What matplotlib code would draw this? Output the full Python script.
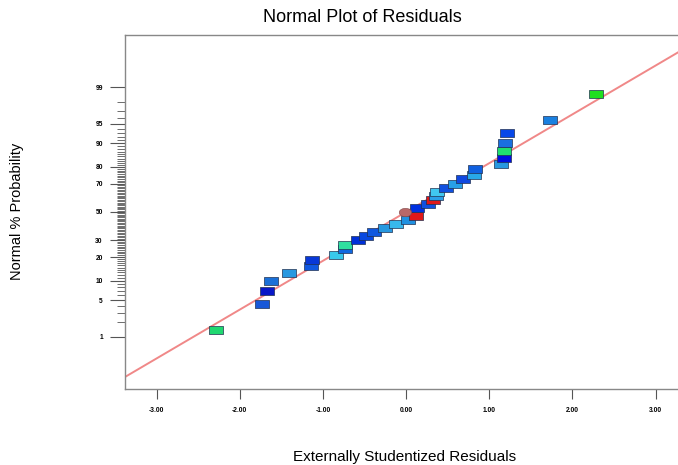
import numpy as np
import matplotlib
matplotlib.use("Agg")
import matplotlib.pyplot as plt
from statistics import NormalDist

# ---- data ----
residuals = [-2.28, -1.73, -1.67, -1.62, -1.41, -1.14, -1.13, -0.84, -0.73, -0.73,
             -0.58, -0.48, -0.38, -0.25, -0.12, 0.02, 0.12, -0.01, 0.13, 0.26,
             0.32, 0.36, 0.37, 0.48, 0.59, 0.69, 0.82, 0.83, 1.14, 1.18,
             1.18, 1.19, 1.21, 1.73, 2.28]
prob_pct = [1.4, 4.3, 7.1, 10.0, 12.9, 15.7, 18.6, 21.4, 24.3, 27.1,
            30.0, 32.9, 35.7, 38.6, 41.4, 44.3, 47.1, 50.0, 52.9, 55.7,
            58.6, 61.4, 64.3, 67.1, 70.0, 72.9, 75.7, 78.6, 81.4, 84.3,
            87.1, 90.0, 92.9, 95.7, 98.6]
point_colors = ['#20d870', '#1858d8', '#0818c8', '#1a70d8', '#2898e0', '#1058e0', '#0838d8',
                '#38c8ec', '#1068e0', '#30e0a0', '#0030d8', '#0848e0', '#1058e0', '#2898e0',
                '#38b8ec', '#2090e0', '#e01818', '#b86868', '#0030e0', '#1050e0', '#e01818',
                '#2aa0e8', '#40c8f0', '#1050e0', '#28a0e8', '#1048e0', '#28a8e8', '#1060e0',
                '#2898e0', '#0010e0', '#20e070', '#1a70e0', '#0848e8', '#1a80e0', '#20e020']
ellipse_index = 17  # the round marker

major_pct = [1, 5, 10, 20, 30, 50, 70, 80, 90, 95, 99]
major_labels = ['1', '5', '10', '20', '30', '50', '70', '80', '90', '95', '99']
minor_pct = list(range(2, 99))
x_ticks = [-3, -2, -1, 0, 1, 2, 3]
x_tick_labels = ['-3.00', '-2.00', '-1.00', '0.00', '1.00', '2.00', '3.00']

line_slope = 0.91
line_intercept = 0.0

nd = NormalDist()
def probit(p):
    return np.array([nd.inv_cdf(v / 100.0) for v in np.atleast_1d(p)])

plt.rcParams['font.family'] = ['Liberation Sans', 'DejaVu Sans']

fig = plt.figure(figsize=(6.78, 4.65), dpi=100)
ax = fig.add_axes([125 / 678, 76 / 465, 1 - 125 / 678, (389 - 35) / 465])

xlim = (-3.38, 3.27)
ax.set_xlim(*xlim)
ax.set_ylim(-3.3, 3.3)

# fit line
xl = np.array(xlim)
ax.plot(xl, line_intercept + line_slope * xl, color='#f08888', lw=1.4, zorder=1)

rect = [(-1.55, -1), (1.55, -1), (1.55, 1), (-1.55, 1), (-1.55, -1)]
t = np.linspace(0, 2 * np.pi, 40)
ell = list(zip(1.5 * np.cos(t), np.sin(t)))

z = probit(prob_pct)
for i, (xv, zv, c) in enumerate(zip(residuals, z, point_colors)):
    if i == ellipse_index:
        continue
    ax.plot([xv], [zv], marker=rect, markersize=9.5, color=c,
            markeredgecolor='#203050', markeredgewidth=0.5, linestyle='none', zorder=3)
ax.plot([residuals[ellipse_index]], [z[ellipse_index]], marker=ell, markersize=9,
        color=point_colors[ellipse_index], markeredgecolor='#804848', markeredgewidth=0.4,
        linestyle='none', zorder=4)

# axes styling
ax.spines['right'].set_visible(False)
for s in ['left', 'top', 'bottom']:
    ax.spines[s].set_color('#888888')
    ax.spines[s].set_linewidth(1.0)

ax.set_yticks(probit(major_pct))
ax.set_yticklabels(major_labels, fontsize=4.8, fontweight='bold')
ax.set_yticks(probit(minor_pct), minor=True)
ax.tick_params(axis='y', which='major', length=11, width=0.8, color='#555555', pad=5)
ax.tick_params(axis='y', which='minor', length=6, width=0.6, color='#555555')

ax.set_xticks(x_ticks)
ax.set_xticklabels(x_tick_labels, fontsize=4.8, fontweight='bold')
ax.tick_params(axis='x', which='major', length=7, width=0.8, color='#555555', pad=6)

fig.text(362 / 678, 1 - 17 / 465, 'Normal Plot of Residuals', ha='center', va='center', fontsize=13)
fig.text(405 / 678, 1 - 457 / 465, 'Externally Studentized Residuals', ha='center', va='center', fontsize=11)
fig.text(17 / 678, 1 - 211 / 465, 'Normal % Probability', ha='center', va='center', rotation=90, fontsize=10.5)

fig.savefig('out.png', dpi=100)
